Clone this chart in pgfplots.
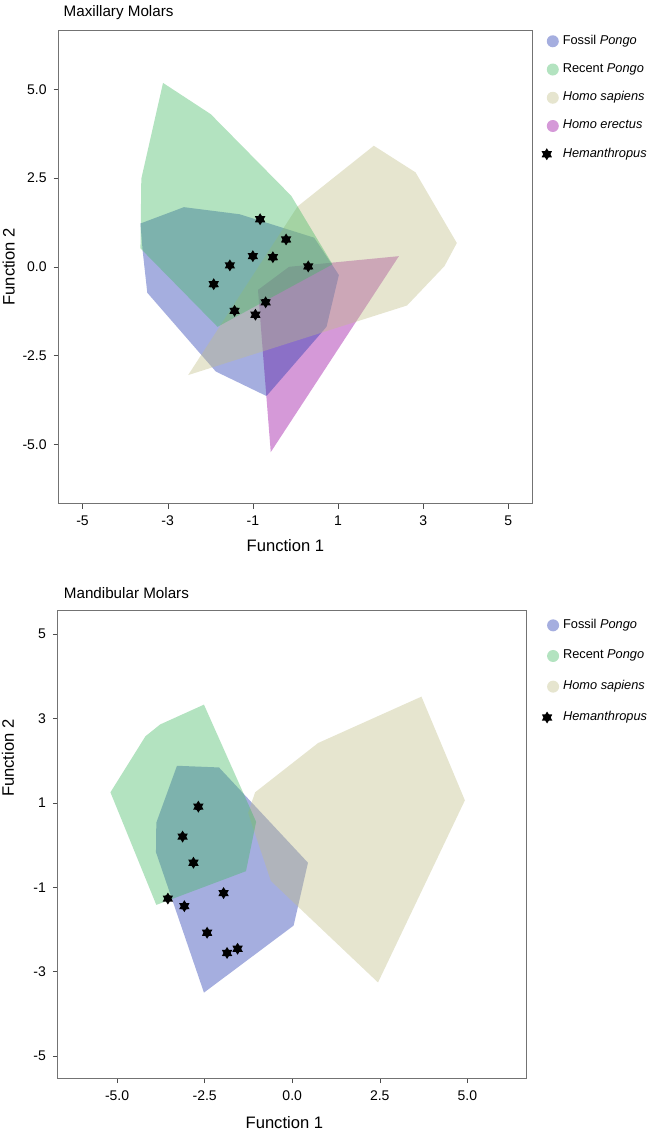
\documentclass[border=0pt]{standalone}
\usepackage{fontspec}
\setmainfont{Liberation Sans}
\usepackage{pgfplots}
\pgfplotsset{compat=1.18}

\definecolor{fossil}{RGB}{30,52,175}
\definecolor{recent}{RGB}{65,185,98}
\definecolor{hsap}{RGB}{192,190,135}
\definecolor{herect}{RGB}{150,0,158}

% six-pointed filled star for the Hemanthropus specimens
\pgfdeclareplotmark{hexstar}{%
  \pgfpathmoveto{\pgfpointpolar{90}{\pgfplotmarksize}}%
  \pgfpathlineto{\pgfpointpolar{120}{0.6\pgfplotmarksize}}%
  \pgfpathlineto{\pgfpointpolar{150}{\pgfplotmarksize}}%
  \pgfpathlineto{\pgfpointpolar{180}{0.6\pgfplotmarksize}}%
  \pgfpathlineto{\pgfpointpolar{210}{\pgfplotmarksize}}%
  \pgfpathlineto{\pgfpointpolar{240}{0.6\pgfplotmarksize}}%
  \pgfpathlineto{\pgfpointpolar{270}{\pgfplotmarksize}}%
  \pgfpathlineto{\pgfpointpolar{300}{0.6\pgfplotmarksize}}%
  \pgfpathlineto{\pgfpointpolar{330}{\pgfplotmarksize}}%
  \pgfpathlineto{\pgfpointpolar{0}{0.6\pgfplotmarksize}}%
  \pgfpathlineto{\pgfpointpolar{30}{\pgfplotmarksize}}%
  \pgfpathlineto{\pgfpointpolar{60}{0.6\pgfplotmarksize}}%
  \pgfpathclose\pgfusepathqfill}

\pgfplotsset{
  panel/.style={
    scale only axis,
    tick align=outside, xtick pos=bottom, ytick pos=left,
    axis line style={black!55}, tick style={black!70},
    major tick length=2.5pt,
    tick label style={font=\fontsize{7}{8}\selectfont},
    label style={font=\fontsize{8.3}{10}\selectfont},
    xlabel={Function 1}, ylabel={Function 2},
    every axis title/.style={at={(0,1)}, anchor=base west, inner sep=0pt,
      font=\fontsize{7.6}{9}\selectfont},
    legend cell align=left,
    legend style={draw=none, fill=none, anchor=north west, inner sep=0pt,
      font=\fontsize{6.4}{7.5}\selectfont,
      /tikz/every even column/.style={column sep=0pt}},
  },
  hull/.style={draw=none, fill=#1, fill opacity=0.4, forget plot},
  dot/.style={legend image code/.code={\fill[draw=none, #1, fill opacity=0.4] (3pt,0pt) circle (3pt);}},
  stars/.style={only marks, mark=hexstar, mark size=3pt, black,
    legend image code/.code={\pgfuseplotmark{hexstar}}},
}

\begin{document}
\begin{tikzpicture}
\useasboundingbox (0,0) rectangle (324pt,565.5pt);

% ---------- Maxillary molars ----------
\begin{axis}[panel,
  at={(29.35pt,313.7pt)}, anchor=south west,
  width=236.75pt, height=236.8pt,
  xmin=-5.56, xmax=5.56, ymin=-6.67, ymax=6.67,
  xtick={-5,-3,-1,1,3,5}, xticklabels={-5,-3,-1,1,3,5},
  ytick={-5,-2.5,0,2.5,5}, yticklabels={-5.0,-2.5,0.0,2.5,5.0},
  title={Maxillary Molars}, title style={xshift=2.3pt, yshift=6.6pt},
  xlabel style={at={(axis description cs:0.5,0)}, anchor=center, yshift=-21pt, xshift=-5pt},
  ylabel style={at={(axis description cs:0,0.5)}, anchor=center, rotate=0, yshift=25pt},
  legend style={at={(axis description cs:1.0,0.99)}, xshift=4.5pt, yshift=2pt, row sep=4.1pt},
]
\addlegendimage{dot=fossil}\addlegendentry{Fossil \textit{Pongo}}
\addlegendimage{dot=recent}\addlegendentry{Recent \textit{Pongo}}
\addlegendimage{dot=hsap}\addlegendentry{\textit{Homo sapiens}}
\addlegendimage{dot=herect}\addlegendentry{\textit{Homo erectus}}

\addplot[hull=herect] coordinates {
  (-0.88,-0.65) (-0.15,0.00) (2.43,0.30) (-0.58,-5.22)} -- cycle;
\addplot[hull=fossil] coordinates {
  (-3.64,1.22) (-2.62,1.68) (-1.31,1.48) (0.44,0.82) (1.02,-0.23)
  (0.73,-1.69) (-0.68,-3.64) (-1.87,-2.95) (-3.48,-0.73) (-3.59,0.47)} -- cycle;
\addplot[hull=hsap] coordinates {
  (-2.52,-3.05) (0.05,1.70) (1.84,3.41) (2.82,2.66) (3.79,0.67)
  (3.50,0.02) (2.62,-1.09)} -- cycle;
\addplot[hull=recent] coordinates {
  (-3.11,5.18) (-1.99,4.30) (-0.10,2.00) (0.87,0.07) (-1.83,-1.69)
  (-3.64,0.52) (-3.62,2.48)} -- cycle;

\addplot[stars] coordinates {
  (-0.83,1.34) (-0.22,0.77) (-1.00,0.30) (-0.53,0.27) (-1.54,0.04)
  (0.30,0.01) (-1.92,-0.49) (-0.70,-1.00) (-1.43,-1.24) (-0.94,-1.35)};
\addlegendentry{\textit{Hemanthropus}}
\end{axis}

% ---------- Mandibular molars ----------
\begin{axis}[panel,
  at={(28.95pt,26.4pt)}, anchor=south west,
  width=234.5pt, height=234pt,
  xmin=-6.69, xmax=6.70, ymin=-5.53, ymax=5.57,
  xtick={-5,-2.5,0,2.5,5}, xticklabels={-5.0,-2.5,0.0,2.5,5.0},
  ytick={-5,-3,-1,1,3,5}, yticklabels={-5,-3,-1,1,3,5},
  title={Mandibular Molars}, title style={xshift=2.8pt, yshift=5.9pt},
  xlabel style={at={(axis description cs:0.5,0)}, anchor=center, yshift=-22.4pt, xshift=-4pt},
  ylabel style={at={(axis description cs:0,0.5)}, anchor=center, rotate=0, yshift=25pt, xshift=43pt},
  legend style={at={(axis description cs:1.0,0.973)}, xshift=7.3pt, yshift=4pt, row sep=5.3pt},
]
\addlegendimage{dot=fossil}\addlegendentry{Fossil \textit{Pongo}}
\addlegendimage{dot=recent}\addlegendentry{Recent \textit{Pongo}}
\addlegendimage{dot=hsap}\addlegendentry{\textit{Homo sapiens}}

\addplot[hull=fossil] coordinates {
  (-3.29,1.88) (-2.09,1.84) (0.45,-0.42) (0.04,-1.91) (-2.52,-3.50)
  (-3.89,-0.17) (-3.88,0.53)} -- cycle;
\addplot[hull=hsap] coordinates {
  (3.69,3.52) (4.93,1.06) (2.45,-3.26) (-0.61,-0.85) (-1.26,0.76)
  (-1.06,1.25) (0.74,2.42)} -- cycle;
\addplot[hull=recent] coordinates {
  (-2.52,3.33) (-1.03,0.55) (-1.32,-0.62) (-3.88,-1.42) (-5.19,1.25)
  (-4.19,2.58) (-3.77,2.86)} -- cycle;

\addplot[stars] coordinates {
  (-2.68,0.91) (-3.13,0.20) (-2.82,-0.42) (-1.96,-1.14) (-3.55,-1.27)
  (-3.08,-1.45) (-2.43,-2.08) (-1.86,-2.56) (-1.56,-2.46)};
\addlegendentry{\textit{Hemanthropus}}
\end{axis}
\end{tikzpicture}
\end{document}
